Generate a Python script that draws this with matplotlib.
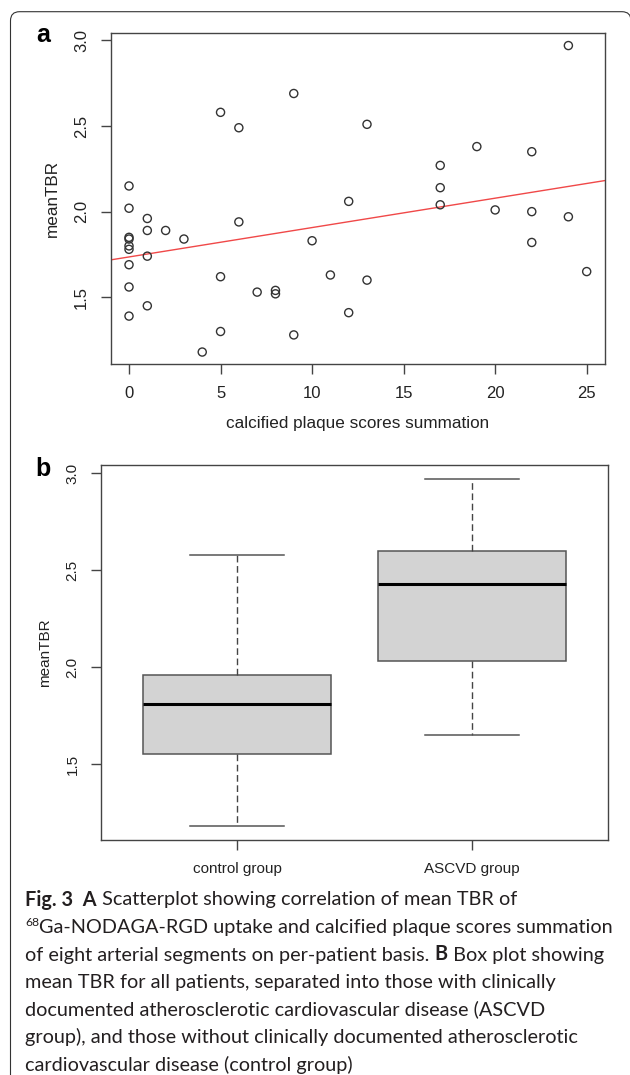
import matplotlib.pyplot as plt
import numpy as np
from matplotlib.patches import FancyBboxPatch
from matplotlib.transforms import IdentityTransform

plt.rcParams['font.family'] = ['Liberation Sans', 'DejaVu Sans']

W, H = 630, 1075
INK = '#222222'
FRAME = '#444444'

# panel a: calcified plaque score vs mean TBR (one entry per patient)
calc_score = [0, 0, 0, 0, 0, 0, 0, 0, 0, 1, 1, 1, 1, 2, 3, 4, 5, 5, 5, 6, 6,
              7, 8, 8, 9, 9, 10, 11, 12, 12, 13, 13, 17, 17, 17, 19, 20,
              22, 22, 22, 24, 24, 25]
mean_tbr = [2.15, 2.02, 1.85, 1.84, 1.80, 1.78, 1.69, 1.56, 1.39,
            1.96, 1.89, 1.74, 1.45, 1.89, 1.84, 1.18, 2.58, 1.62, 1.30,
            2.49, 1.94, 1.53, 1.54, 1.52, 2.69, 1.28, 1.83, 1.63, 2.06,
            1.41, 2.51, 1.60, 2.27, 2.14, 2.04, 2.38, 2.01, 2.35, 2.00,
            1.82, 2.97, 1.97, 1.65]

# panel b: box plot summaries
groups = ['control group', 'ASCVD group']
whisker_low = [1.18, 1.65]
q1 = [1.55, 2.03]
median = [1.81, 2.43]
q3 = [1.96, 2.60]
whisker_high = [2.58, 2.97]

y_ticks = [1.5, 2.0, 2.5, 3.0]


def r_range(lo, hi):
    pad = 0.04 * (hi - lo)
    return lo - pad, hi + pad


def rect(left, top, right, bottom):
    return [left / W, 1 - bottom / H, (right - left) / W, (bottom - top) / H]


def style_axes(ax, size, ypad, xpad):
    for sp in ax.spines.values():
        sp.set_color(FRAME)
        sp.set_linewidth(1.0)
    ax.tick_params(direction='out', length=7.5, width=1.0, color=FRAME,
                   labelsize=size, labelcolor=INK)
    ax.tick_params(axis='y', pad=ypad)
    ax.tick_params(axis='x', pad=xpad)
    ax.set_yticks(y_ticks, labels=[f'{v:.1f}' for v in y_ticks])
    for lab in ax.get_yticklabels():
        lab.set_rotation(90)
        lab.set_va('center')


fig = plt.figure(figsize=(W / 100, H / 100), dpi=100)

# ---------------- panel a ----------------
ax1 = fig.add_axes(rect(110.7, 33.3, 605, 364.3))
ax1.scatter(calc_score, mean_tbr, s=34, facecolors='none',
            edgecolors='#333333', linewidths=1.0, zorder=3)
slope, intercept = np.polyfit(calc_score, mean_tbr, 1)
ax1.axline((0, intercept), slope=slope, color='#f04848', linewidth=1.0,
           zorder=2)
ax1.set_xlim(*r_range(min(calc_score), max(calc_score)))
ax1.set_ylim(*r_range(min(mean_tbr), max(mean_tbr)))
ax1.set_xticks([0, 5, 10, 15, 20, 25])
style_axes(ax1, 12, 8, 8)
ax1.set_xlabel('calcified plaque scores summation', fontsize=12.3, color=INK)
ax1.xaxis.set_label_coords(0.5, -0.155)
ax1.set_ylabel('meanTBR', fontsize=12.3, color=INK)
ax1.yaxis.set_label_coords(-0.103, 0.5)

# ---------------- panel b ----------------
ax2 = fig.add_axes(rect(101, 465, 608.3, 840))
stats = [dict(label=g, whislo=lo, q1=a, med=m, q3=b, whishi=hi)
         for g, lo, a, m, b, hi in zip(groups, whisker_low, q1, median, q3,
                                       whisker_high)]
ax2.bxp(stats, positions=[1, 2], widths=0.8, capwidths=0.4,
        showfliers=False, patch_artist=True,
        boxprops=dict(facecolor='#d3d3d3', edgecolor='#555555',
                      linewidth=1.1),
        medianprops=dict(color='black', linewidth=2.2),
        whiskerprops=dict(color='#444444', linewidth=1.0,
                          linestyle=(0, (4.8, 2.6))),
        capprops=dict(color='#555555', linewidth=1.1))
ax2.set_xlim(0.42, 2.58)
ax2.set_ylim(*r_range(min(whisker_low), max(whisker_high)))
style_axes(ax2, 11, 8, 8)
ax2.set_ylabel('meanTBR', fontsize=11, color=INK)
ax2.yaxis.set_label_coords(-0.0966, 0.5)

# panel letters
fig.text(36 / W, 1 - 42 / H, 'a', fontsize=18, fontweight='bold',
         color='black', va='baseline')
fig.text(35.5 / W, 1 - 476 / H, 'b', fontsize=18, fontweight='bold',
         color='black', va='baseline')

# rounded frame around the figure (right and bottom sides run off the page)
frame = FancyBboxPatch((10.5, -30), 620.5, H - 11.7 + 30,
                       boxstyle='round,pad=0,rounding_size=9',
                       transform=IdentityTransform(), facecolor='none',
                       edgecolor='#333333', linewidth=0.8)
fig.add_artist(frame)

# ---------------- caption ----------------
CAP_FONT = ['Lato', 'DejaVu Sans']
renderer = fig.canvas.get_renderer()

probe = fig.text(0, 0, 'Ga-NODAGA-RGD uptake and calcified plaque scores summation',
                 fontsize=10, family=CAP_FONT)
cap_size = 10 * 572 / probe.get_window_extent(renderer).width
probe.remove()

caption = [
    [('Fig. 3', 'bold', ''), ('  A', 'bold', ''),
     (' Scatterplot showing correlation of mean TBR of', 'normal', '')],
    [('68', 'normal', 'sup'),
     ('Ga-NODAGA-RGD uptake and calcified plaque scores summation', 'normal', '')],
    [('of eight arterial segments on per-patient basis. ', 'normal', ''),
     ('B', 'bold', ''), (' Box plot showing', 'normal', '')],
    [('mean TBR for all patients, separated into those with clinically', 'normal', '')],
    [('documented atherosclerotic cardiovascular disease (ASCVD', 'normal', '')],
    [('group), and those without clinically documented atherosclerotic', 'normal', '')],
    [('cardiovascular disease (control group)', 'normal', '')],
]

for i, pieces in enumerate(caption):
    x = 25
    base = 905.5 + i * 27.5
    for txt, weight, kind in pieces:
        fs = cap_size * 0.62 if kind == 'sup' else cap_size
        y = base - (cap_size * 0.5 if kind == 'sup' else 0)
        t = fig.text(x / W, 1 - y / H, txt, fontsize=fs, fontweight=weight,
                     family=CAP_FONT, color='#231f20', va='baseline',
                     ha='left')
        x += t.get_window_extent(renderer).width

fig.savefig('out.png', dpi=100)
